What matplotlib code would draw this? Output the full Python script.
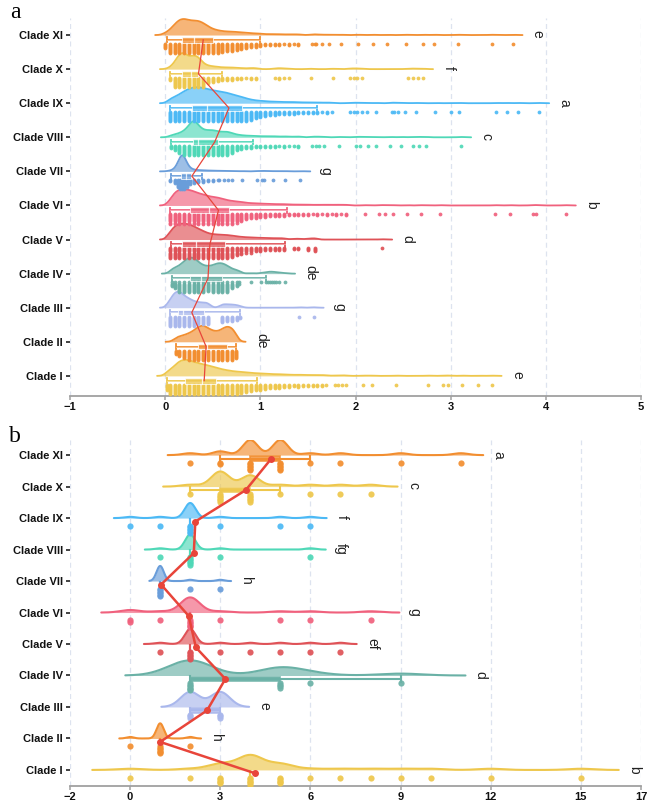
import numpy as np
import matplotlib
matplotlib.use("Agg")
import matplotlib.pyplot as plt
from matplotlib.patches import Rectangle

plt.rcParams["font.family"] = ["Liberation Sans", "DejaVu Sans"]

# ---------------------------------------------------------------------------
# Data
# ---------------------------------------------------------------------------
CLADES = ["Clade I", "Clade II", "Clade III", "Clade IV", "Clade V", "Clade VI",
          "Clade VII", "Clade VIII", "Clade IX", "Clade X", "Clade XI"]
COLOURS = ["#EEC74C", "#F28E30", "#A9B7EC", "#6AB1A6", "#DF5257", "#F0617D",
           "#699DDA", "#4FD8B7", "#4CB9F5", "#EEC74C", "#F28E30"]
RED = "#E8453A"

# panel a : binned values (x) and counts (n) + sparse tail points
A_I_X = [0.02, 0.05, 0.10, 0.15, 0.20, 0.25, 0.30, 0.35, 0.40, 0.45, 0.50, 0.55,
         0.60, 0.65, 0.70, 0.75, 0.80, 0.85, 0.90, 0.95, 1.00, 1.05, 1.10, 1.15,
         1.20, 1.25, 1.30, 1.35, 1.40, 1.45, 1.50, 1.55, 1.60, 1.65, 1.69]
A_I_N = [6, 12, 24, 34, 38, 36, 32, 29, 27, 24, 21, 18, 15, 13, 11, 10, 9, 8, 7, 6,
         6, 5, 4, 4, 4, 3, 3, 2, 3, 2, 2, 2, 2, 2, 1]
A_I_TAIL = [1.78, 1.82, 1.86, 1.90, 2.08, 2.17, 2.43, 2.76, 2.92, 2.97, 3.12, 3.29, 3.43]

A_II_X = [0.11, 0.15, 0.20, 0.25, 0.30, 0.35, 0.40, 0.45, 0.50, 0.55, 0.60, 0.65,
          0.70, 0.74]
A_II_N = [4, 6, 8, 10, 13, 18, 20, 16, 13, 12, 15, 19, 16, 8]
A_II_TAIL = []

A_III_X = [0.05, 0.10, 0.15, 0.20, 0.25, 0.30, 0.35, 0.40, 0.45, 0.60, 0.65, 0.70,
           0.75, 0.79]
A_III_N = [12, 24, 26, 18, 14, 10, 8, 8, 8, 6, 5, 5, 4, 2]
A_III_TAIL = [1.41, 1.56]

A_IV_X = [0.07, 0.10, 0.15, 0.20, 0.25, 0.30, 0.35, 0.40, 0.45, 0.50, 0.55, 0.60,
          0.65, 0.70, 0.75, 0.78]
A_IV_N = [4, 6, 10, 15, 20, 20, 14, 10, 9, 10, 13, 13, 10, 6, 4, 2]
A_IV_TAIL = [0.90, 1.01, 1.06, 1.08, 1.10, 1.12, 1.14, 1.16, 1.20, 1.26]

A_V_X = [0.05, 0.10, 0.15, 0.20, 0.25, 0.30, 0.35, 0.40, 0.45, 0.50, 0.55, 0.60,
         0.65, 0.70, 0.75, 0.80, 0.85, 0.90, 0.95, 1.00, 1.05, 1.10, 1.15, 1.20,
         1.25, 1.35, 1.40, 1.50, 1.57]
A_V_N = [18, 30, 36, 36, 34, 30, 24, 19, 14, 12, 11, 11, 10, 9, 7, 6, 5, 5, 4, 4,
         3, 3, 3, 3, 3, 2, 2, 3, 4]
A_V_TAIL = [2.28]

A_VI_X = [0.05, 0.10, 0.15, 0.20, 0.25, 0.30, 0.35, 0.40, 0.45, 0.50, 0.55, 0.60,
          0.65, 0.70, 0.75, 0.80, 0.85, 0.90, 0.95, 1.00, 1.05, 1.10, 1.15, 1.20,
          1.25, 1.30, 1.35, 1.40, 1.45, 1.50, 1.55, 1.60, 1.65, 1.70, 1.75, 1.80,
          1.85, 1.90]
A_VI_N = [12, 30, 36, 36, 35, 32, 27, 25, 21, 19, 18, 15, 12, 10, 9, 8, 6, 5, 5, 4,
          4, 3, 3, 3, 3, 2, 2, 2, 2, 2, 1, 2, 1, 2, 1, 2, 1, 2]
A_VI_TAIL = [2.10, 2.25, 2.31, 2.39, 2.54, 2.69, 2.89, 3.47, 3.62, 3.86, 3.90, 4.21]

A_VII_X = [0.05, 0.10, 0.13, 0.16, 0.18, 0.20, 0.23, 0.26, 0.30, 0.35, 0.40, 0.45,
           0.50, 0.55]
A_VII_N = [2, 4, 8, 20, 30, 20, 8, 5, 4, 3, 3, 2, 2, 1]
A_VII_TAIL = [0.57, 0.62, 0.66, 0.70, 0.81, 0.96, 1.02, 1.04, 1.13, 1.26, 1.42]

A_VIII_X = [0.06, 0.10, 0.15, 0.20, 0.25, 0.30, 0.35, 0.40, 0.45, 0.50, 0.55, 0.60,
            0.65, 0.70, 0.75, 0.80, 0.85, 0.90, 0.95, 1.00, 1.05, 1.10, 1.15, 1.20,
            1.25, 1.30, 1.35, 1.40]
A_VIII_N = [3, 5, 8, 12, 22, 36, 22, 14, 13, 14, 11, 10, 11, 8, 5, 4, 3, 3, 2, 2,
            2, 2, 2, 1, 2, 1, 1, 2]
A_VIII_TAIL = [1.54, 1.58, 1.62, 1.67, 1.83, 2.00, 2.05, 2.13, 2.22, 2.36, 2.48,
               2.60, 2.67, 2.74, 3.11]

A_IX_X = [0.05, 0.10, 0.15, 0.20, 0.25, 0.30, 0.35, 0.40, 0.45, 0.50, 0.55, 0.60,
          0.65, 0.70, 0.75, 0.80, 0.85, 0.90, 0.95, 1.00, 1.05, 1.10, 1.15, 1.20,
          1.25, 1.30, 1.35, 1.40, 1.45, 1.50, 1.55, 1.60, 1.65, 1.70, 1.75]
A_IX_N = [11, 16, 22, 30, 36, 40, 40, 38, 35, 32, 30, 28, 26, 22, 19, 16, 12, 9, 7,
          6, 5, 4, 4, 3, 3, 3, 3, 2, 2, 2, 2, 2, 1, 2, 1]
A_IX_TAIL = [1.94, 1.98, 2.02, 2.07, 2.12, 2.22, 2.38, 2.40, 2.45, 2.52, 2.64, 2.84,
             3.00, 3.09, 3.48, 3.59, 3.71, 3.93]

A_X_X = [0.05, 0.10, 0.15, 0.20, 0.25, 0.30, 0.35, 0.40, 0.45, 0.50, 0.55, 0.60,
         0.65, 0.70, 0.75, 0.80, 0.85, 0.90, 0.95, 1.15, 1.20, 1.25, 1.30]
A_X_N = [3, 12, 28, 30, 20, 25, 22, 10, 6, 5, 4, 3, 3, 3, 2, 2, 1, 2, 2, 1, 2, 1, 1]
A_X_TAIL = [1.53, 1.76, 1.94, 1.98, 2.02, 2.07, 2.55, 2.60, 2.66, 2.71]

A_XI_X = [0.00, 0.05, 0.10, 0.15, 0.20, 0.25, 0.30, 0.35, 0.40, 0.45, 0.50, 0.55,
          0.60, 0.65, 0.70, 0.75, 0.80, 0.85, 0.90, 0.95, 1.00, 1.05, 1.10, 1.15,
          1.20, 1.25, 1.30, 1.35, 1.40]
A_XI_N = [5, 12, 25, 36, 38, 34, 33, 33, 28, 20, 14, 11, 9, 8, 8, 7, 6, 5, 4, 4, 3,
          2, 2, 2, 2, 1, 2, 1, 2]
A_XI_TAIL = [1.54, 1.57, 1.59, 1.65, 1.72, 1.85, 2.03, 2.18, 2.33, 2.53, 2.71, 2.83,
             3.08, 3.43, 3.65]

A_Q1 = [0.21, 0.34, 0.13, 0.26, 0.18, 0.26, 0.17, 0.29, 0.28, 0.18, 0.18]
A_MED = [0.39, 0.44, 0.19, 0.38, 0.32, 0.46, 0.22, 0.35, 0.44, 0.27, 0.30]
A_Q3 = [0.53, 0.65, 0.41, 0.60, 0.63, 0.67, 0.27, 0.55, 0.81, 0.34, 0.50]
A_WLO = [0.02, 0.11, 0.05, 0.07, 0.06, 0.05, 0.06, 0.06, 0.05, 0.05, 0.02]
A_WHI = [0.97, 0.74, 0.79, 1.06, 1.26, 1.28, 0.39, 0.92, 1.60, 0.60, 1.00]
A_MEAN = [0.41, 0.43, 0.28, 0.45, 0.47, 0.56, 0.28, 0.52, 0.67, 0.35, 0.40]
A_LETTERS = ["e", "de", "g", "de", "d", "b", "g", "c", "a", "f", "e"]

# panel b : integer values and counts
B_I_X = [0, 2, 3, 4, 5, 6, 7, 8, 9, 10, 12, 15]
B_I_N = [1, 1, 5, 12, 5, 1, 1, 1, 1, 1, 1, 1]
B_II_X = [0, 1, 2]
B_II_N = [1, 10, 1]
B_III_X = [2, 3]
B_III_N = [3, 3]
B_IV_X = [2, 5, 6, 9]
B_IV_N = [8, 4, 1, 1]
B_V_X = [1, 2, 3, 4, 5, 6, 7]
B_V_N = [1, 12, 1, 1, 1, 1, 1]
B_VI_X = [0, 1, 2, 3, 5, 6, 8]
B_VI_N = [2, 1, 12, 1, 1, 1, 1]
B_VII_X = [1, 2, 3]
B_VII_N = [12, 1, 1]
B_VIII_X = [1, 2, 3, 6]
B_VIII_N = [1, 12, 1, 1]
B_IX_X = [0, 1, 2, 3, 5, 6]
B_IX_N = [1, 1, 12, 1, 1, 1]
B_X_X = [2, 3, 4, 5, 6, 7, 8]
B_X_N = [1, 8, 6, 1, 1, 1, 1]
B_XI_X = [2, 3, 4, 5, 6, 7, 9, 11]
B_XI_N = [1, 2, 8, 8, 1, 1, 1, 1]

B_BW = [0.42, 0.12, 0.32, 0.72, 0.18, 0.32, 0.12, 0.17, 0.18, 0.30, 0.25]
B_Q1 = [4, 1, 2, 2, 2, 2, 1, 2, 2, 3, 4]
B_MED = [4, 1, 2.5, 2, 2, 2, 1, 2, 2, 3, 5]
B_Q3 = [4, 1, 3, 5, 2, 2, 1, 2, 2, 4, 5]
B_WLO = [4, 1, 2, 2, 2, 2, 1, 2, 2, 2, 3]
B_WHI = [4, 1, 3, 9, 2, 2, 1, 2, 2, 5, 6]
B_MEAN = [4.17, 1.00, 2.56, 3.17, 2.19, 1.95, 1.03, 2.12, 2.17, 3.85, 4.70]
B_LETTERS = ["b", "h", "e", "d", "ef", "g", "h", "fg", "f", "c", "a"]

A_X = [A_I_X, A_II_X, A_III_X, A_IV_X, A_V_X, A_VI_X, A_VII_X, A_VIII_X, A_IX_X, A_X_X, A_XI_X]
A_N = [A_I_N, A_II_N, A_III_N, A_IV_N, A_V_N, A_VI_N, A_VII_N, A_VIII_N, A_IX_N, A_X_N, A_XI_N]
A_TAIL = [A_I_TAIL, A_II_TAIL, A_III_TAIL, A_IV_TAIL, A_V_TAIL, A_VI_TAIL, A_VII_TAIL,
          A_VIII_TAIL, A_IX_TAIL, A_X_TAIL, A_XI_TAIL]
B_X = [B_I_X, B_II_X, B_III_X, B_IV_X, B_V_X, B_VI_X, B_VII_X, B_VIII_X, B_IX_X, B_X_X, B_XI_X]
B_N = [B_I_N, B_II_N, B_III_N, B_IV_N, B_V_N, B_VI_N, B_VII_N, B_VIII_N, B_IX_N, B_X_N, B_XI_N]


def kde(vals, weights, bw, cut):
    v = np.asarray(vals, float)
    w = np.asarray(weights, float)
    xs = np.linspace(v.min() - cut * bw, v.max() + cut * bw, 500)
    d = (w[None, :] * np.exp(-0.5 * ((xs[:, None] - v[None, :]) / bw) ** 2)).sum(axis=1)
    return xs, d / d.max()


def draw_panel(ax, xs_list, ns_list, bws, q1, med, q3, wlo, whi, means, letters, st):
    for i in range(len(CLADES)):
        col = COLOURS[i]
        vals = list(xs_list[i])
        cnts = list(ns_list[i])
        gx, gd = kde(vals, cnts, bws[i], st["cut"])
        top = i + gd * st["vh"]
        ax.fill_between(gx, i, top, color=col, alpha=0.65, lw=0, zorder=2)
        ax.plot(gx, top, color=col, lw=st["vlw"], zorder=3, solid_capstyle="round")

        # stacked points below the box
        px, py = [], []
        for v, n in zip(vals, cnts):
            for k in range(min(n, st["kmax"] + 1)):
                px.append(v)
                py.append(i - st["p0"] - k * st["step"])
        ax.scatter(px, py, s=st["ms"], color=col, alpha=0.92, lw=0, zorder=4)

        # box + whiskers
        yc = i - st["b0"]
        h = st["bh"]
        c = st["cap"]
        ax.plot([wlo[i], whi[i]], [yc, yc], color=col, lw=st["wlw"], zorder=5,
                solid_capstyle="butt")
        for xx in (wlo[i], whi[i]):
            ax.plot([xx, xx], [yc - c, yc + c], color=col, lw=st["wlw"], zorder=5)
        if st["light"]:
            ax.plot([wlo[i], whi[i]], [yc, yc], color="white", lw=0.5, alpha=0.55, zorder=5)
            ax.add_patch(Rectangle((q1[i], yc - h / 2), q3[i] - q1[i], h, facecolor=col,
                                   alpha=0.75, edgecolor="white", lw=0.7, zorder=5))
            ax.plot([med[i], med[i]], [yc - h / 2, yc + h / 2], color="white", lw=0.9,
                    alpha=0.8, zorder=6)
        else:
            ax.add_patch(Rectangle((q1[i], yc - h / 2), q3[i] - q1[i], h, facecolor=col,
                                   alpha=0.8, edgecolor=col, lw=1.3, zorder=5))

        ax.annotate(letters[i], (gx[-1], i + 0.02), xytext=(st["loff"], 0),
                    textcoords="offset points", rotation=-90, ha="left", va="center",
                    fontsize=10, color="#222222", zorder=7)

    ys = [i - st["b0"] for i in range(len(CLADES))]
    ax.plot(means, ys, color=RED, lw=st["mlw"], marker=st["mk"], ms=st["mms"],
            zorder=8)


def style_axis(ax, xlim, xticks, ylim):
    ax.set_xlim(*xlim)
    ax.set_xticks(xticks)
    ax.set_ylim(*ylim)
    ax.set_yticks(range(len(CLADES)))
    ax.set_yticklabels(CLADES, fontsize=8, fontweight="bold")
    for s in ("top", "right", "left"):
        ax.spines[s].set_visible(False)
    ax.spines["bottom"].set_color("#a0a0a0")
    ax.spines["bottom"].set_linewidth(1.3)
    ax.tick_params(axis="x", colors="#a0a0a0", length=3, width=1.1,
                   labelcolor="#111111", labelsize=8, pad=1.5)
    ax.tick_params(axis="y", length=3, width=1.3, color="#333333", pad=2,
                   labelcolor="#111111")
    for lbl in ax.get_xticklabels():
        lbl.set_fontweight("bold")
    ax.grid(axis="x", color="#dde3ef", lw=0.9, ls=(0, (4, 3)))
    ax.set_axisbelow(True)


fig = plt.figure(figsize=(6.48, 8.05), dpi=100)
ax_a = fig.add_axes([70 / 648, 1 - 396 / 805, 571 / 648, 378 / 805])
ax_b = fig.add_axes([70 / 648, 1 - 786 / 805, 571 / 648, 346 / 805])

# panel a
a_vals = [list(x) + list(t) for x, t in zip(A_X, A_TAIL)]
a_cnts = [list(n) + [1] * len(t) for n, t in zip(A_N, A_TAIL)]
style_a = dict(cut=3, vh=0.47, vlw=1.3, p0=0.26, step=0.03, kmax=9, ms=7.5,
               b0=0.14, bh=0.17, cap=0.07, wlw=1.3, light=True, loff=6,
               mlw=0.9, mk=None, mms=0)
draw_panel(ax_a, a_vals, a_cnts, [0.035] * 11, A_Q1, A_MED, A_Q3, A_WLO, A_WHI,
           A_MEAN, A_LETTERS, style_a)
style_axis(ax_a, (-1, 5), list(range(-1, 6)), (-0.59, 10.5))

# panel b
style_b = dict(cut=3, vh=0.48, vlw=1.5, p0=0.25, step=0.045, kmax=5, ms=20,
               b0=0.11, bh=0.15, cap=0.09, wlw=1.5, light=False, loff=6,
               mlw=1.8, mk="o", mms=4)
draw_panel(ax_b, B_X, B_N, B_BW, B_Q1, B_MED, B_Q3, B_WLO, B_WHI,
           B_MEAN, B_LETTERS, style_b)
style_axis(ax_b, (-2, 17), [-2, 0, 3, 6, 9, 12, 15, 17], (-0.51, 10.48))

fig.text(15 / 648, 1 - 13 / 805, "a", family="Liberation Serif", fontsize=17,
         ha="center", va="center")
fig.text(15 / 648, 1 - 436 / 805, "b", family="Liberation Serif", fontsize=17,
         ha="center", va="center")

fig.savefig("out.png", dpi=100, facecolor="white")
